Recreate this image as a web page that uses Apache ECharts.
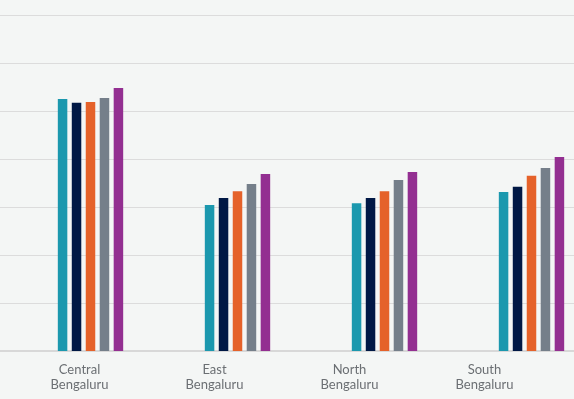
<!DOCTYPE html>
<html>
<head>
<meta charset="utf-8">
<script src="https://cdn.jsdelivr.net/npm/echarts@6/dist/echarts.min.js"></script>
<style>
  html, body { margin: 0; padding: 0; background: #f4f6f5; }
  #chart { width: 574px; height: 399px; }
</style>
</head>
<body>
<div id="chart"></div>
<script>
// regions on the x axis
const categories = ['Central\nBengaluru', 'East\nBengaluru', 'North\nBengaluru', 'South\nBengaluru']
// five series (axis 0..70, no labels shown)
const seriesA = [52.5, 30.4, 30.8, 33.1]
const seriesB = [51.7, 31.9, 31.9, 34.2]
const seriesC = [51.9, 33.3, 33.3, 36.5]
const seriesD = [52.7, 34.8, 35.6, 38.1]
const seriesE = [54.8, 36.9, 37.3, 40.4]
const colors = ['#1b98ae', '#001845', '#e5622a', '#757f8a', '#932f91']

const chart = echarts.init(document.getElementById('chart'))

const allSeries = [seriesA, seriesB, seriesC, seriesD, seriesE]

const option = {
  backgroundColor: '#f4f6f5',
  animation: false,
  grid: [
    // gridlines + axis line, full width
    { left: 0, right: 0, top: 15, bottom: 48, outerBoundsMode: 'none' },
    // bars (wider than the page, like the cropped original)
    { left: 17, width: 588, top: 15, bottom: 48, outerBoundsMode: 'none' },
    // category labels
    { left: 12, right: 22, top: 15, bottom: 48, outerBoundsMode: 'none' }
  ],
  xAxis: [
    {
      gridIndex: 0, type: 'category', data: categories,
      axisLine: { lineStyle: { color: '#d8d8d8', width: 2 } },
      axisTick: { show: false }, axisLabel: { show: false }
    },
    {
      gridIndex: 1, type: 'category', data: categories, show: false
    },
    {
      gridIndex: 2, type: 'category', data: categories,
      axisLine: { show: false }, axisTick: { show: false },
      axisLabel: {
        color: '#6b6f73', fontFamily: 'Lato', fontSize: 13,
        lineHeight: 15, margin: 11, interval: 0
      }
    }
  ],
  yAxis: [
    {
      gridIndex: 0, type: 'value', min: 0, max: 70, interval: 10,
      axisLine: { show: false }, axisTick: { show: false }, axisLabel: { show: false },
      splitLine: { lineStyle: { color: '#dcdcdc', width: 1 } }
    },
    { gridIndex: 1, type: 'value', min: 0, max: 70, show: false, splitLine: { show: false } },
    { gridIndex: 2, type: 'value', min: 0, max: 70, show: false, splitLine: { show: false } }
  ],
  series: allSeries.map((vals, i) => ({
    type: 'bar',
    xAxisIndex: 1,
    yAxisIndex: 1,
    data: vals,
    barWidth: 9.5,
    barGap: '47%',
    itemStyle: { color: colors[i] }
  }))
}

chart.setOption(option)
</script>
</body>
</html>
